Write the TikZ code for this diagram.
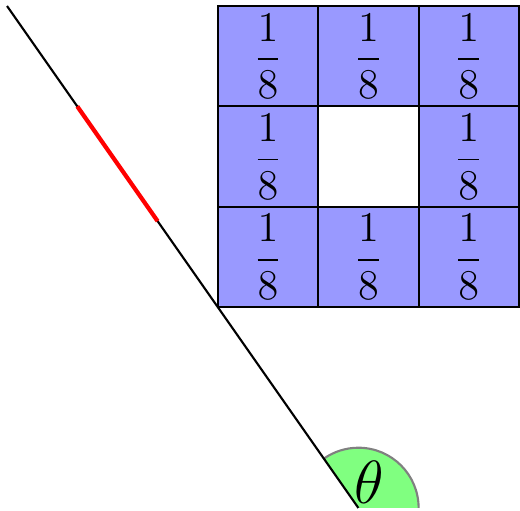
\documentclass[tikz,border=0pt]{standalone}
\usetikzlibrary{positioning}

\begin{document}
\begin{tikzpicture}[
  cell/.style={draw, semithick, fill=blue!40, minimum size=1cm, inner sep=0pt,
    font=\fontsize{13}{15}\selectfont},
  hole/.style={cell, fill=white},
  ray/.style={semithick, black},
  piece/.style={red, very thick},
  wedge/.style={fill=green!50},
  wedgerim/.style={draw=gray, semithick}
]
  \useasboundingbox (-3.57,-0.03) rectangle (1.61,5.06);

  % the grid of cells
  \foreach \i in {0,1,2} {
    \foreach \j in {0,1,2} {
      \ifnum\i=1 \ifnum\j=1
        \node[hole] (c\i\j) at (-0.9+\i,2.5+\j) {};
      \else
        \node[cell] (c\i\j) at (-0.9+\i,2.5+\j) {$\displaystyle\frac{1}{8}$};
      \fi\else
        \node[cell] (c\i\j) at (-0.9+\i,2.5+\j) {$\displaystyle\frac{1}{8}$};
      \fi
    }
  }

  % the angle at the foot of the ray
  \coordinate (foot) at (0,0);
  \coordinate (tip) at (-3.5,5);
  \fill[wedge] (foot) -- (0.6,0) arc[start angle=0, end angle=125, radius=0.6] -- cycle;
  \draw[wedgerim] (0.6,0) arc[start angle=0, end angle=125, radius=0.6];
  \node[font=\LARGE] (theta) at (0.11,0.26) {$\theta$};

  % the ray and its red piece
  \draw[ray] (foot) -- (tip);
  \coordinate (ptop) at (-2.8,4);
  \coordinate (pbot) at (-2,2.857);
  \draw[piece] (ptop) -- (pbot);
\end{tikzpicture}
\end{document}
